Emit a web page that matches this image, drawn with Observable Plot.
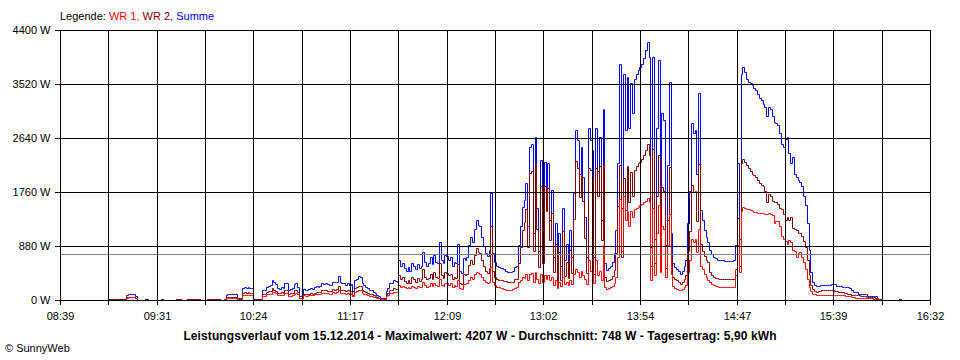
<!DOCTYPE html>
<html><head><meta charset="utf-8">
<script src="https://cdn.jsdelivr.net/npm/d3@7"></script>
<script src="https://cdn.jsdelivr.net/npm/@observablehq/plot@0.6"></script>
<style>
body{margin:0;background:#fff;font-family:"Liberation Sans",Arial,sans-serif;}
#wrap{position:relative;width:960px;height:360px;overflow:hidden;}
#chart{position:absolute;left:0;top:0;}
#legend{position:absolute;left:60px;top:10px;font-size:11px;color:#000;white-space:nowrap;}
#title{position:absolute;left:0;width:960px;top:329px;text-align:center;font-weight:bold;font-size:12px;letter-spacing:0.1px;color:#000;white-space:nowrap;}
#copy{position:absolute;left:5px;top:342px;font-size:11px;color:#000;}
</style></head>
<body>
<div id="wrap"><div id="chart"></div><div id="legend"></div><div id="title"></div><div id="copy">© SunnyWeb</div></div>
<script>
// time axis (minutes after midnight)
const xDomain = [519, 992];
const xLabels = ["08:39","09:31","10:24","11:17","12:09","13:02","13:54","14:47","15:39","16:32"];
const yTicks = [0, 880, 1760, 2640, 3520, 4400];
const startMinute = 545; // 09:05, one sample per minute
const average = 748;
const maximum = 4207;
const dayYield = "5,90";
const dateText = "15.12.2014";
const seriesNames = ["WR 1", "WR 2", "Summe"];
const seriesColors = ["#ff0000", "#800000", "#0000ff"];

const wr1 = [
6,6,6,6,6,6,6,6,6,6,
30,45,45,45,45,25,0,0,0,0,
6,6,0,0,0,0,0,0,0,6,
0,0,0,0,0,0,0,6,6,6,
0,0,0,6,6,6,6,6,6,6,
0,0,0,0,6,6,6,6,6,6,
6,0,0,6,35,40,40,40,40,40,
0,5,5,75,80,80,80,80,75,6,
6,6,6,6,70,65,90,95,100,130,
130,110,80,75,85,80,110,115,70,70,
80,105,115,90,30,25,75,70,70,75,
85,80,90,95,95,100,115,110,115,110,
105,105,125,120,125,160,120,115,120,105,
115,100,110,60,130,145,160,155,115,105,
95,80,70,70,55,45,35,25,12,10,
15,60,80,110,115,130,130,125,250,220,
230,210,190,215,195,230,220,200,230,210,
220,290,240,220,235,270,230,280,240,235,
340,250,235,280,275,250,270,220,240,235,
330,190,180,260,255,270,330,380,350,420,
460,440,430,380,330,290,280,300,540,290,
240,220,210,200,195,185,170,165,165,165,
175,200,220,300,330,380,360,420,330,430,
440,300,450,350,270,420,290,400,350,410,
320,380,250,330,200,300,230,380,260,300,
240,320,260,420,500,450,380,470,400,350,
260,650,480,450,270,650,400,480,330,900,
220,180,190,210,230,270,380,700,1650,800,
1700,1300,1450,1200,1450,1350,1480,1500,1520,1550,
1560,1590,1620,1660,1600,320,1500,400,1100,1550,
450,1200,1150,380,900,1400,420,230,200,180,
170,165,180,210,240,450,650,1000,950,1000,
780,1150,560,500,420,380,330,290,260,240,
225,222,220,218,215,213,212,210,210,208,
210,500,900,450,1450,1520,1500,1490,1480,1465,
1450,1440,1430,1420,1420,1410,1410,1400,1400,1410,
1400,1380,1250,1280,1280,1200,1050,1000,960,920,
970,940,815,800,705,760,780,700,620,500,
350,220,140,100,90,85,80,80,80,80,
80,80,80,80,80,80,80,80,80,75,
75,70,65,60,54,50,40,30,27,27,
27,25,25,25,25,25,20,20,15,10,
5,0,0,0,0,0,0,0,0,0,
6,0,0];

const wr2 = [
12,12,12,12,12,12,12,12,12,12,
50,55,55,55,55,35,0,0,0,0,
12,12,0,0,0,0,0,0,0,12,
0,0,0,0,0,0,0,12,12,12,
0,0,0,12,12,12,12,12,12,12,
0,0,0,0,12,12,12,12,12,12,
12,0,0,12,50,50,55,50,55,50,
30,20,20,115,130,120,125,120,115,12,
12,12,12,12,90,100,130,140,150,190,
170,150,120,110,125,120,160,165,100,110,
120,155,160,130,40,35,105,100,95,100,
115,105,120,130,125,130,155,155,160,150,
140,145,175,170,175,235,170,165,165,145,
160,140,150,80,190,205,230,225,155,145,
125,110,90,100,75,65,45,35,18,15,
25,80,110,160,165,190,180,175,400,340,
370,310,280,325,285,370,340,300,360,310,
340,500,380,340,365,430,350,450,380,365,
600,400,365,460,445,400,430,340,380,365,
580,280,260,420,405,430,570,650,590,730,
840,780,770,650,550,470,440,520,1210,470,
380,340,320,320,325,315,310,295,295,290,
295,340,340,600,870,1140,1270,1480,870,2070,
2110,800,2210,1150,530,1860,610,1850,1450,1820,
980,1420,450,920,235,790,320,1120,390,620,
360,820,440,1320,2270,2150,1680,2030,1610,1010,
440,2150,2120,1990,430,2150,1700,2180,970,2220,
380,310,330,350,390,490,760,1530,2200,700,
1990,1470,2190,1600,2080,1690,2120,2190,2230,2250,
2290,2360,2450,2547,2360,550,2460,600,1700,2360,
750,1840,1780,520,1300,2160,680,370,340,320,
300,265,300,350,410,800,1120,1880,1765,1770,
1280,2220,910,800,720,650,620,450,410,380,
360,355,350,348,345,343,340,338,340,335,
340,400,1330,550,2240,2290,2250,2200,2150,2100,
2060,2040,2000,1960,1900,1870,1850,1780,1600,1720,
1700,1620,1600,1600,1560,1500,1480,1400,1300,1350,
1300,1360,1180,1150,1140,1100,1100,1040,960,870,
650,400,250,180,150,135,140,150,155,163,
165,165,163,165,160,150,140,135,135,130,
120,110,100,90,85,80,80,80,75,70,
65,60,55,55,55,50,45,40,30,20,
10,5,0,0,0,0,0,0,0,0,
12,0,0];

const summe = [
18,18,18,18,18,18,18,18,18,18,
80,100,100,100,100,60,0,0,0,0,
18,18,0,0,0,0,0,0,0,18,
0,0,0,0,0,0,0,18,18,18,
0,0,0,18,18,18,18,18,18,18,
0,0,0,0,18,18,18,18,18,18,
18,0,0,18,85,90,95,90,95,90,
30,25,25,190,210,200,205,200,190,18,
18,18,18,18,160,165,220,235,250,320,
300,260,200,185,210,200,270,280,170,180,
200,260,275,220,70,60,180,170,165,175,
200,185,210,225,220,230,270,265,275,260,
245,250,300,290,300,395,290,280,285,250,
275,240,260,140,320,350,390,380,270,250,
220,190,160,170,130,110,80,60,30,25,
40,140,190,270,280,320,310,300,650,560,
600,520,470,540,480,600,560,500,590,520,
560,790,620,560,600,700,580,730,620,600,
940,650,600,740,720,650,700,560,620,600,
910,470,440,680,660,700,900,1030,940,1150,
1300,1220,1200,1030,880,760,720,820,1750,760,
620,560,530,520,520,500,480,460,460,455,
470,540,560,900,1200,1520,1630,1900,1200,2500,
2550,1100,2660,1500,800,2280,900,2250,1800,2230,
1300,1800,700,1250,435,1090,550,1500,650,920,
600,1140,700,1740,2770,2600,2060,2500,2010,1360,
700,2800,2600,2440,700,2800,2100,2660,1300,3120,
600,490,520,560,620,760,1140,2230,3850,1500,
3690,2770,3640,2800,3530,3040,3600,3690,3750,3800,
3850,3950,4070,4207,3960,870,3960,1000,2800,3910,
1200,3040,2930,900,2200,3560,1100,600,540,500,
470,430,480,560,650,1250,1770,2880,2715,2770,
2060,3370,1470,1300,1140,1030,950,815,750,705,
680,660,650,650,645,640,640,635,640,630,
650,900,2230,1000,3690,3790,3720,3600,3560,3540,
3500,3450,3420,3350,3300,3260,3200,3150,3000,3150,
3120,3000,2900,2880,2860,2720,2550,2500,2620,2660,
2400,2230,2330,2060,2000,1950,1930,1850,1700,1550,
1250,820,450,300,250,235,235,240,245,245,
245,245,245,260,260,260,228,228,225,220,
215,210,206,200,170,135,135,130,100,98,
98,95,90,65,65,65,62,60,20,16,
16,5,0,0,0,0,0,0,0,0,
18,0,0];

const valuesByName = {"WR 1": wr1, "WR 2": wr2, "Summe": summe};
// draw order: Summe underneath, then WR 2, then WR 1
const drawOrder = ["Summe", "WR 2", "WR 1"];
const rows = drawOrder.flatMap(name => valuesByName[name].map((v, i) => ({t: startMinute + i, v, name})));

const nGrid = 18;
const gridT = d3.range(nGrid + 1).map(k => xDomain[0] + k * (xDomain[1] - xDomain[0]) / nGrid);
const labelFor = new Map(gridT.map((t, k) => [t, k % 2 === 0 ? xLabels[k / 2] : ""]));

const chart = Plot.plot({
  width: 960, height: 360,
  marginTop: 30, marginBottom: 60, marginLeft: 60, marginRight: 30,
  style: {fontFamily: "'Liberation Sans', Arial, sans-serif", fontSize: "11px", color: "#000", background: "transparent"},
  x: {domain: xDomain, round: true},
  y: {domain: [yTicks[0], yTicks[yTicks.length - 1]], round: true},
  color: {domain: seriesNames, range: seriesColors},
  marks: [
    Plot.line(rows, {x: "t", y: "v", z: "name", stroke: "name", curve: "step-after", strokeWidth: 1}),
    Plot.ruleY([average], {stroke: "#808080", strokeWidth: 1}),
    Plot.gridX({ticks: gridT, stroke: "#000", strokeOpacity: 1}),
    Plot.gridY({ticks: yTicks, stroke: "#000", strokeOpacity: 1}),
    Plot.axisX({ticks: gridT, tickSize: 5, tickPadding: 7, tickFormat: d => labelFor.get(d) ?? "", label: null}),
    Plot.axisY({ticks: yTicks, tickSize: 5, tickPadding: 5, tickFormat: d => d + " W", label: null})
  ]
});
document.getElementById("chart").appendChild(chart);

const legend = document.getElementById("legend");
legend.append("Legende: ");
seriesNames.forEach((n, i) => {
  const s = document.createElement("span");
  s.style.color = seriesColors[i];
  s.textContent = n + (i < seriesNames.length - 1 ? ", " : "");
  legend.appendChild(s);
});
document.getElementById("title").textContent =
  `Leistungsverlauf vom ${dateText} - Maximalwert: ${maximum} W - Durchschnitt: ${average} W - Tagesertrag: ${dayYield} kWh`;
</script>
</body></html>
